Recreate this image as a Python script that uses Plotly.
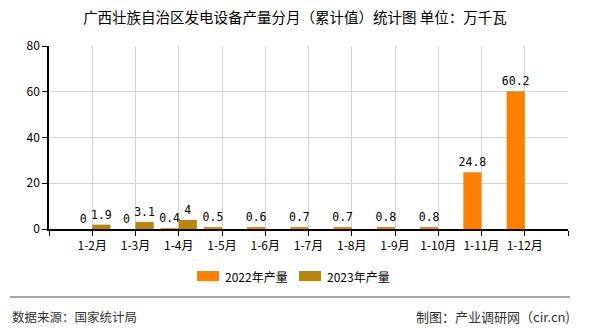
import plotly.graph_objects as go

categories = ["1-2月", "1-3月", "1-4月", "1-5月", "1-6月", "1-7月", "1-8月", "1-9月", "1-10月", "1-11月", "1-12月"]
values_2022 = [0, 0, 0.4, 0.5, 0.6, 0.7, 0.7, 0.8, 0.8, 24.8, 60.2]
values_2023 = [1.9, 3.1, 4, None, None, None, None, None, None, None, None]
series_names = ["2022年产量", "2023年产量"]
series_colors = ["#FF8000", "#B8860B"]
title_text = "广西壮族自治区发电设备产量分月（累计值）统计图 单位：万千瓦"
source_text = "数据来源：国家统计局"
credit_text = "制图：产业调研网（cir.cn)"

xpos = list(range(1, len(categories) + 1))
font_family = "Noto Sans CJK SC, Noto Sans, sans-serif"
label_font = dict(size=11.5, color="#000000", family="DejaVu Sans Mono, monospace")

fig = go.Figure()
for name, color, vals in zip(series_names, series_colors, [values_2022, values_2023]):
    fig.add_trace(go.Bar(
        x=xpos, y=vals, name=name,
        marker=dict(color=color, line=dict(width=0)),
        text=[("" if v is None else str(v)) for v in vals], textposition="outside",
        textfont=label_font, constraintext="none",
        cliponaxis=False, showlegend=False,
    ))

tickvals = list(range(0, len(categories) + 2))
ticktext = [""] + categories + [""]

W, H = 590, 330
ml, mr, mt, mb = 49, 22, 46, 101
pw = W - ml - mr
ph = H - mt - mb

def px_x(px):
    return (px - ml) / pw

def px_y(py):
    return (H - mb - py) / ph

fig.update_layout(
    width=W, height=H,
    margin=dict(l=ml, r=mr, t=mt, b=mb),
    paper_bgcolor="white", plot_bgcolor="white",
    barmode="group", bargap=0.16, bargroupgap=0,
    font=dict(family=font_family, size=12, color="#000000"),
    title=dict(text=title_text, x=0.5, xanchor="center", y=1 - 18 / H, yanchor="middle",
               font=dict(size=14.5, color="#000000", family=font_family)),
    xaxis=dict(
        range=[0, len(categories) + 1], tickmode="array", tickvals=tickvals, ticktext=ticktext,
        showgrid=True, gridcolor="#D3D3D3", gridwidth=1,
        showline=True, linecolor="#000000", linewidth=1.5,
        ticks="outside", ticklen=5, tickcolor="#000000",
        tickfont=dict(size=12, color="#000000"), zeroline=False, fixedrange=True,
    ),
    yaxis=dict(
        range=[0, 80], tickmode="array", tickvals=[0, 20, 40, 60, 80],
        showgrid=True, gridcolor="#D3D3D3", gridwidth=1,
        showline=True, linecolor="#000000", linewidth=1.5,
        ticks="outside", ticklen=5, tickcolor="#000000",
        tickfont=dict(size=12, color="#000000"), zeroline=False, fixedrange=True,
    ),
    showlegend=False,
)

# custom legend (wide swatches like the reference)
legend_x = [197, 299]
for lx, name, color in zip(legend_x, series_names, series_colors):
    fig.add_shape(type="rect", xref="paper", yref="paper",
                  x0=px_x(lx), x1=px_x(lx + 22), y0=px_y(281), y1=px_y(271),
                  fillcolor=color, line=dict(width=0))
    fig.add_annotation(text=name, xref="paper", yref="paper", x=px_x(lx + 26), y=px_y(276),
                       xanchor="left", yanchor="middle", showarrow=False,
                       font=dict(size=12, color="#000000", family=font_family))

fig.add_shape(type="line", xref="paper", yref="paper",
              x0=px_x(10), x1=px_x(570), y0=px_y(297), y1=px_y(297),
              line=dict(color="#888888", width=1.5))
fig.add_annotation(text=source_text, xref="paper", yref="paper", x=px_x(10), y=px_y(316),
                   xanchor="left", yanchor="middle", showarrow=False,
                   font=dict(size=12.5, color="#333333", family=font_family))
fig.add_annotation(text=credit_text, xref="paper", yref="paper", x=px_x(572), y=px_y(316),
                   xanchor="right", yanchor="middle", showarrow=False,
                   font=dict(size=13, color="#333333", family=font_family))

fig.write_html("out.html")
